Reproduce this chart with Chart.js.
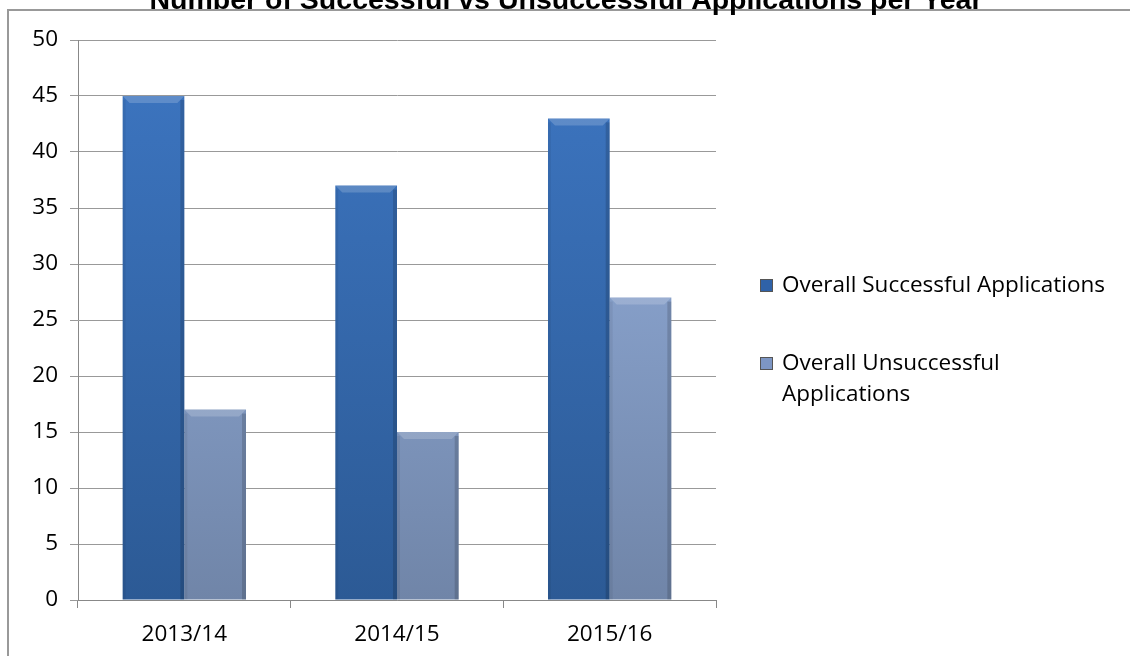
<!DOCTYPE html>
<html>
<head>
<meta charset="utf-8">
<script src="https://cdn.jsdelivr.net/npm/chart.js@4.4.1/dist/chart.umd.min.js"></script>
<style>
  body { margin: 0; background: #fff; }
  #wrap { position: relative; width: 1130px; height: 656px; overflow: hidden; }
  #legend { position: absolute; left: 760px; top: 268px; font-family: "Open Sans", sans-serif; font-size: 22.5px; color: #000; }
  .item { position: relative; padding-left: 22px; line-height: 31px; margin-bottom: 47px; white-space: nowrap; }
  .box { position: absolute; left: 0; top: 11px; width: 11px; height: 11px; border: 1px solid #555; }
</style>
</head>
<body>
<div id="wrap">
  <canvas id="chart" width="1130" height="656"></canvas>
  <div id="legend"></div>
</div>
<script>
const titleText = "Number of Successful vs Unsuccessful Applications per Year";
const years = ["2013/14", "2014/15", "2015/16"];
const successful = [45, 37, 43];
const unsuccessful = [17, 15, 27];
const yTicks = [0, 5, 10, 15, 20, 25, 30, 35, 40, 45, 50];

function barFill(top, bottom) {
  return function (c) {
    const area = c.chart.chartArea;
    if (!area) return top;
    const g = c.chart.ctx.createLinearGradient(0, area.top, 0, area.bottom);
    g.addColorStop(0, top);
    g.addColorStop(1, bottom);
    return g;
  };
}

const frame = {
  id: "frame",
  beforeDraw(chart) {
    const ctx = chart.ctx;
    ctx.save();
    ctx.strokeStyle = "#999";
    ctx.lineWidth = 2;
    ctx.beginPath();
    ctx.moveTo(8, 660);
    ctx.lineTo(8, 10);
    ctx.lineTo(1132, 10);
    ctx.stroke();
    ctx.fillStyle = "#000";
    ctx.font = "bold 28.5px 'Liberation Sans', Arial, sans-serif";
    ctx.textAlign = "center";
    ctx.textBaseline = "alphabetic";
    ctx.fillText(titleText, 566, 9);
    ctx.restore();
  },
  afterDatasetsDraw(chart) {
    // bevel highlight on bar tops
    const ctx = chart.ctx;
    ctx.save();
    chart.data.datasets.forEach((ds, i) => {
      chart.getDatasetMeta(i).data.forEach(bar => {
        const l = bar.x - bar.width / 2, r = bar.x + bar.width / 2, t = bar.y;
        ctx.fillStyle = "rgba(255,255,255,0.18)";
        ctx.beginPath();
        ctx.moveTo(l, t); ctx.lineTo(r, t); ctx.lineTo(r - 7, t + 7); ctx.lineTo(l + 7, t + 7);
        ctx.closePath(); ctx.fill();
        ctx.fillStyle = "rgba(0,0,0,0.15)";
        ctx.fillRect(r - 4, t + 4, 4, bar.base - t - 4);
        ctx.fillStyle = "rgba(0,0,0,0.06)";
        ctx.fillRect(l, t + 4, 3, bar.base - t - 4);
      });
    });
    ctx.restore();
  }
};

const tickFont = { family: "'Open Sans', sans-serif", size: 22.5 };

const chart = new Chart(document.getElementById("chart"), {
  type: "bar",
  data: {
    labels: years,
    datasets: [{
      label: "Overall Successful Applications",
      data: successful,
      backgroundColor: barFill("#3d76c2", "#2c5a95"),
      legendColor: "#2f62a8"
    }, {
      label: ["Overall Unsuccessful", "Applications"],
      data: unsuccessful,
      backgroundColor: barFill("#97b3e2", "#7085a8"),
      legendColor: "#7d96c4"
    }]
  },
  options: {
    responsive: false,
    animation: false,
    layout: { padding: { left: 0, right: 414, top: 40, bottom: 0 } },
    categoryPercentage: 0.58,
    barPercentage: 1,
    plugins: { legend: { display: false }, tooltip: { enabled: false }, title: { display: false } },
    scales: {
      x: {
        grid: { offset: true, drawOnChartArea: false, color: "#888", tickLength: 8 },
        border: { color: "#888" },
        ticks: { color: "#000", padding: 13, font: tickFont },
        afterFit(s) { s.height = 56; }
      },
      y: {
        min: 0, max: 50,
        afterBuildTicks(s) { s.ticks = yTicks.map(v => ({ value: v })); },
        grid: { color: "#999", tickLength: 8 },
        border: { color: "#888" },
        ticks: { color: "#000", padding: 12, font: tickFont },
        afterFit(s) { s.width = 78; }
      }
    }
  },
  plugins: [frame]
});

const legend = document.getElementById("legend");
chart.data.datasets.forEach(ds => {
  const item = document.createElement("div");
  item.className = "item";
  const box = document.createElement("span");
  box.className = "box";
  box.style.background = ds.legendColor;
  item.appendChild(box);
  const lines = Array.isArray(ds.label) ? ds.label : [ds.label];
  lines.forEach((t, k) => {
    if (k) item.appendChild(document.createElement("br"));
    item.appendChild(document.createTextNode(t));
  });
  legend.appendChild(item);
});
</script>
</body>
</html>
